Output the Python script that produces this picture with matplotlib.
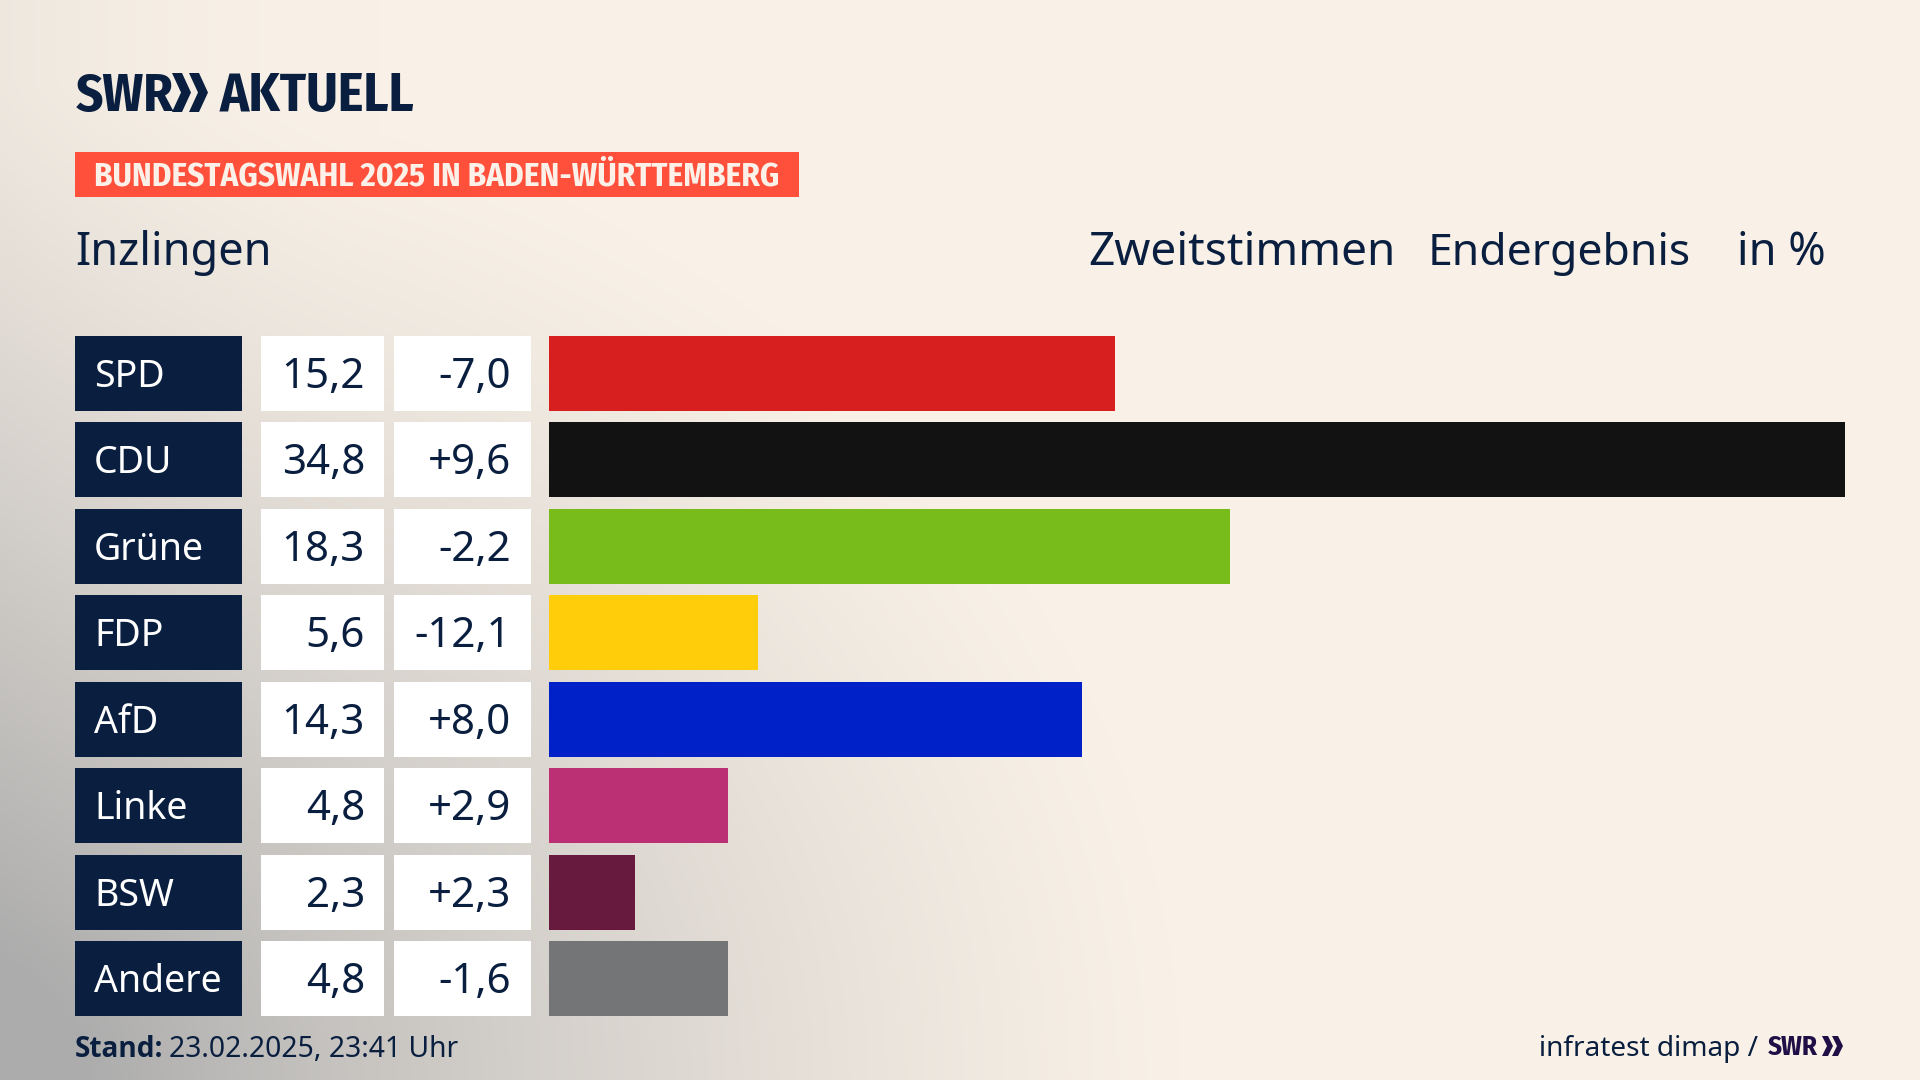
import numpy as np
import matplotlib
matplotlib.use("Agg")
import matplotlib.pyplot as plt
from matplotlib.patches import Rectangle, Polygon

parties = ["SPD", "CDU", "Grüne", "FDP", "AfD", "Linke", "BSW", "Andere"]
values = [15.2, 34.8, 18.3, 5.6, 14.3, 4.8, 2.3, 4.8]
changes = ["-7,0", "+9,6", "-2,2", "-12,1", "+8,0", "+2,9", "+2,3", "-1,6"]
colors = ["#D81F1F", "#121212", "#78BC1B", "#FFCD0A", "#0020C8", "#BB3074", "#671A3E", "#737577"]
title = "Inzlingen"
banner = "BUNDESTAGSWAHL 2025 IN BADEN-WÜRTTEMBERG"
stand = "23.02.2025, 23:41 Uhr"

W, H = 1920, 1080
NAVY = "#0A1F3F"
BODY = ["Noto Sans", "DejaVu Sans"]
NARROW = ["Fira Sans Condensed", "Lato", "DejaVu Sans"]
def pt(px):
    return px * 72 / 100

fig = plt.figure(figsize=(19.2, 10.8), dpi=100)

# background
bg = fig.add_axes([0, 0, 1, 1], zorder=0)
yy, xx = np.mgrid[0:H, 0:W]
d = np.sqrt((xx / 1180.0) ** 2 + ((H - yy) / 1000.0) ** 2)
t = np.clip(1 - d, 0, 1) ** 1.2
left = np.clip(1 - xx / 380.0, 0, 1) ** 2 * 0.14
t = np.clip(t + left, 0, 1)
base = np.array([0xF9, 0xF1, 0xE7]) / 255
dark = np.array([0xAC, 0xAC, 0xAC]) / 255
img = base[None, None, :] * (1 - t[..., None]) + dark[None, None, :] * t[..., None]
bg.imshow(img, extent=(0, W, H, 0), aspect="auto", interpolation="bilinear")
bg.set_xlim(0, W); bg.set_ylim(H, 0); bg.axis("off")

# overlay in pixels
ov = fig.add_axes([0, 0, 1, 1], zorder=2)
ov.set_xlim(0, W); ov.set_ylim(H, 0); ov.axis("off"); ov.patch.set_alpha(0)

ROW_TOP, ROW_H, PITCH = 336.0, 75.0, 86.43
for i, (p, v, c) in enumerate(zip(parties, values, changes)):
    y = ROW_TOP + i * PITCH
    cy = y + ROW_H / 2
    ov.add_patch(Rectangle((75, y), 167, ROW_H, fc=NAVY, ec="none"))
    ov.add_patch(Rectangle((261, y), 123, ROW_H, fc="white", ec="none"))
    ov.add_patch(Rectangle((394, y), 137, ROW_H, fc="white", ec="none"))
    base_y = cy + 14
    ov.text(94, base_y - 0.5, p, color="white", fontsize=pt(37.5), family=BODY, ha="left", va="baseline")
    ov.text(365, base_y + 0.5, f"{v:.1f}".replace(".", ","), color=NAVY, fontsize=pt(42), family=BODY, ha="right", va="baseline")
    ov.text(511, base_y + 0.5, c, color=NAVY, fontsize=pt(42), family=BODY, ha="right", va="baseline")

# bars
PX_PER_UNIT = 37.24
bx0, bw = 549, max(values) * PX_PER_UNIT
top = ROW_TOP + ROW_H / 2 - PITCH / 2
hh = PITCH * len(parties)
ax = fig.add_axes([bx0 / W, 1 - (top + hh) / H, bw / W, hh / H], zorder=1)
ax.barh(range(len(parties)), values, height=ROW_H / PITCH, color=colors)
ax.set_xlim(0, max(values)); ax.set_ylim(len(parties) - 0.5, -0.5)
ax.axis("off")

# logo
ov.text(76, 111, "SWR", color=NAVY, fontsize=pt(53), family=NARROW, weight="bold", va="baseline")
def chev(x, y0, y1, w, th, col):
    m = (y0 + y1) / 2
    ov.add_patch(Polygon([(x, y0), (x + th, y0), (x + th + w, m), (x + th, y1), (x, y1), (x + w, m)], fc=col, ec="none"))
chev(172, 73, 112, 9, 10, NAVY)
chev(189, 73, 112, 9, 10, NAVY)
ov.text(220, 111, "AKTUELL", color=NAVY, fontsize=pt(54), family=NARROW, weight="bold", va="baseline")

# banner
ov.add_patch(Rectangle((75, 152), 724, 45, fc="#FF503C", ec="none"))
ov.text(94, 185, banner, color="#FBF1E8", fontsize=pt(33), family=NARROW, weight="bold", va="baseline")

# headers
ov.text(75, 265, title, color=NAVY, fontsize=pt(45), family=BODY, va="baseline")
ov.text(1088, 265, "Zweitstimmen", color=NAVY, fontsize=pt(46), family=BODY, va="baseline")
ov.text(1428, 265, "Endergebnis", color=NAVY, fontsize=pt(44.5), family=BODY, va="baseline")
ov.text(1826, 265, "in %", color=NAVY, fontsize=pt(45), family=BODY, va="baseline", ha="right")

# footer
ov.text(75, 1057, "Stand:", color=NAVY, fontsize=pt(28), family=["Open Sans", "DejaVu Sans"], weight="bold", va="baseline")
ov.text(169, 1057, stand, color=NAVY, fontsize=pt(28.3), family=BODY, va="baseline")
ov.text(1539, 1056, "infratest dimap /", color=NAVY, fontsize=pt(28), family=BODY, va="baseline")
PURPLE = "#1F0F46"
ov.text(1768, 1055, "SWR", color=PURPLE, fontsize=pt(27), family=NARROW, weight="bold", va="baseline")
chev(1822, 1036, 1056, 5, 6, PURPLE)
chev(1832, 1036, 1056, 5, 6, PURPLE)

fig.savefig("out.png", dpi=100)
